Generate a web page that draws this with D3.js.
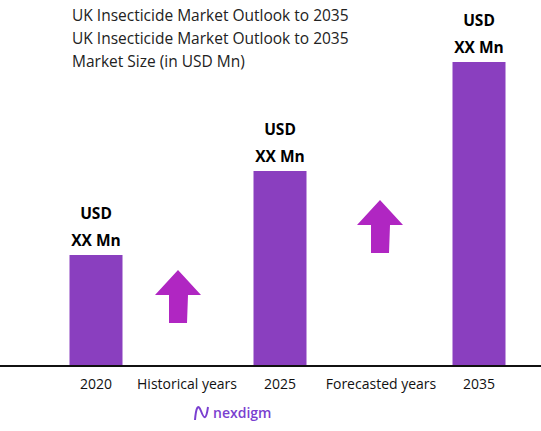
<!DOCTYPE html>
<html><head><meta charset="utf-8">
<script src="https://cdn.jsdelivr.net/npm/d3@7"></script>
<style>body{margin:0;background:#fff}text{font-family:"Open Sans",sans-serif}</style>
</head><body><svg id="c" width="541" height="431"></svg>
<script>
const titles = ["UK Insecticide Market Outlook to 2035", "UK Insecticide Market Outlook to 2035", "Market Size (in USD Mn)"];
const categories = ["2020", "Historical years", "2025", "Forecasted years", "2035"];
const years = ["2020", "2025", "2035"];
const values = [111, 195, 304];
const arrowBetween = ["Historical years", "Forecasted years"];
const arrowLift = [0, 70];
const arrowShift = [-9, -1];

const svg = d3.select("#c");
const baseY = 366, barW = 53;

//x positions of each label
const x = d3.scaleOrdinal().domain(categories).range([96, 187, 280, 381, 479]);
const y = d3.scaleLinear().domain([0, 366]).range([baseY, 0]);

// titles
svg.selectAll(".t").data(titles).enter().append("text")
    .attr("x", 72).attr("y", (d, i) => 21 + i * 23)
    .attr("font-size", 15.5).attr("fill", "#222").text(d => d);

// bars
svg.selectAll("rect.bar").data(years).enter().append("rect")
    .attr("x", (d) => x(d) - barW / 2)
    .attr("width", barW)
    .attr("y", (d, i) => y(values[i]))
    .attr("height", (d, i) => baseY - y(values[i]))
    .attr("fill", "#8a3fbf");

// value labels
years.forEach((d, i) => {
    const top = y(values[i]);
    svg.append("text").attr("x", x(d)).attr("y", top - 36).attr("text-anchor", "middle")
        .attr("font-size", 15.5).attr("font-weight", "bold").attr("fill", "#000").text("USD");
    svg.append("text").attr("x", x(d)).attr("y", top - 9).attr("text-anchor", "middle")
        .attr("font-size", 15.5).attr("font-weight", "bold").attr("fill", "#000").text("XX Mn");
});

// baseline
svg.append("line").attr("x1", 0).attr("x2", 541).attr("y1", baseY).attr("y2", baseY)
    .attr("stroke", "#111").attr("stroke-width", 2);

// category labels
svg.selectAll(".cat").data(categories).enter().append("text")
    .attr("x", d => x(d)).attr("y", 389).attr("text-anchor", "middle")
    .attr("font-size", 14).attr("fill", "#111").text(d => d);

// arrows
arrowBetween.forEach((c, i) => {
    const cx = x(c) + arrowShift[i], tip = 270 - arrowLift[i];
    svg.append("path")
        .attr("d", `M${cx},${tip} L${cx + 23},${tip + 25} L${cx + 10},${tip + 25} L${cx + 9},${tip + 53} L${cx - 9},${tip + 53} L${cx - 9},${tip + 25} L${cx - 23},${tip + 25} Z`)
        .attr("fill", "#b026c2");
});

// logo
const logo = svg.append("g").attr("transform", "translate(193,403)");
logo.append("path").attr("d", "M2,17 C3,5 5,0 8,8 C11,16 13,18 15,4")
    .attr("fill", "none").attr("stroke", "#7a3fd0").attr("stroke-width", 2);
logo.append("text").attr("x", 20).attr("y", 15).attr("font-size", 14).attr("font-weight", 600)
    .attr("fill", "#7a3fd0").text("nexdigm");
</script></body></html>
